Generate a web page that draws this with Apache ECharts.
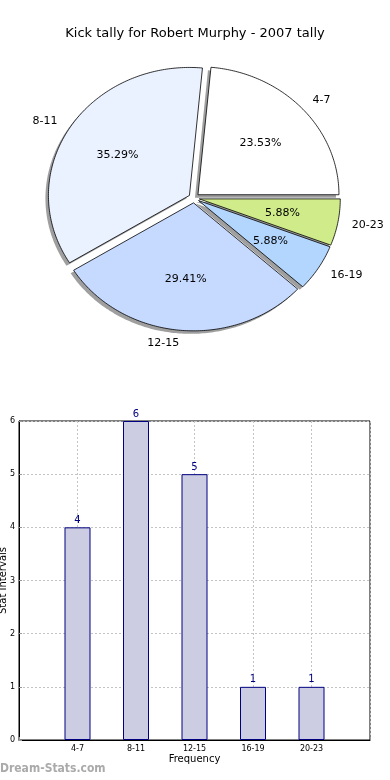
<!DOCTYPE html>
<html><head><meta charset="utf-8">
<script src="https://cdn.jsdelivr.net/npm/echarts@6/dist/echarts.min.js"></script>
<style>html,body{margin:0;padding:0;background:#fff}#c{width:390px;height:780px}</style>
</head><body><div id="c"></div>
<script>
const categories = ['4-7', '8-11', '12-15', '16-19', '20-23'];
const counts = [4, 6, 5, 1, 1];
const sliceColors = ['#ffffff', '#eaf1ff', '#c6d9ff', '#b3d6ff', '#d0ec8a'];
const yTicks = [0, 1, 2, 3, 4, 5, 6];

const total = counts.reduce((a, b) => a + b, 0);
const starts = [];
let acc = 0;
counts.forEach(v => { starts.push(acc); acc += v; });
const PIE = { cx: 194, cy: 198, rx: 141, ry: 128, explode: 0.038, sdx: -3, sdy: 3 };
const FONT = 'DejaVu Sans';

function wedge(i, val) {
  const a0 = starts[i] / total * 2 * Math.PI;
  const a1 = (starts[i] + val) / total * 2 * Math.PI;
  const mid = (a0 + a1) / 2;
  const ox = PIE.cx + PIE.explode * PIE.rx * Math.cos(mid);
  const oy = PIE.cy - PIE.explode * PIE.ry * Math.sin(mid);
  const pts = [[ox, oy]];
  const n = Math.max(6, Math.ceil((a1 - a0) / 0.015));
  for (let k = 0; k <= n; k++) {
    const a = a0 + (a1 - a0) * k / n;
    pts.push([ox + PIE.rx * Math.cos(a), oy - PIE.ry * Math.sin(a)]);
  }
  return { pts, ox, oy, mid };
}

function renderPie(params, api) {
  const i = params.dataIndex;
  const val = api.value(0);
  const w = wedge(i, val);
  const c = Math.cos(w.mid), s = Math.sin(w.mid);
  const pct = (val / total * 100).toFixed(2) + '%';
  return {
    type: 'group',
    children: [
      { type: 'polygon', z2: 0, shape: { points: w.pts.map(p => [p[0] + PIE.sdx, p[1] + PIE.sdy]) },
        style: { fill: 'rgba(80,80,80,0.55)', stroke: null } },
      { type: 'polygon', z2: 10, shape: { points: w.pts },
        style: { fill: sliceColors[i], stroke: '#000', lineWidth: 0.8 } },
      { type: 'text', z2: 20, x: w.ox + 1.1 * PIE.rx * c, y: w.oy - 1.1 * PIE.ry * s,
        style: { text: categories[i], fill: '#000', font: '11px ' + FONT,
          align: c > 0 ? 'left' : 'right', verticalAlign: 'middle' } },
      { type: 'text', z2: 20, x: w.ox + 0.6 * PIE.rx * c, y: w.oy - 0.6 * PIE.ry * s,
        style: { text: pct, fill: '#000', font: '11px ' + FONT,
          align: 'center', verticalAlign: 'middle' } }
    ]
  };
}

const chart = echarts.init(document.getElementById('c'), null, { renderer: 'canvas' });
chart.setOption({
  animation: false,
  backgroundColor: '#fff',
  textStyle: { fontFamily: FONT },
  title: {
    text: 'Kick tally for Robert Murphy - 2007 tally',
    left: 'center', top: 22,
    textStyle: { fontSize: 13, fontWeight: 'normal', color: '#000', fontFamily: FONT }
  },
  graphic: [{
    type: 'text', left: 0, top: 763,
    style: { text: 'Dream-Stats.com', fill: '#aaaaaa', font: 'bold 12px "DejaVu Sans Condensed"' }
  }],
  grid: { left: 19, right: 20, top: 421, bottom: 40, containLabel: false, outerBoundsMode: 'none',
    show: true, borderColor: '#000', borderWidth: 1 },
  xAxis: {
    type: 'value', min: 0, max: categories.length + 1, interval: 1,
    name: 'Frequency', nameLocation: 'middle', nameGap: 14, nameMoveOverlap: false,
    nameTextStyle: { fontSize: 10, color: '#000', fontFamily: FONT },
    axisLine: { show: true, lineStyle: { color: '#000' } },
    axisTick: { show: true, inside: true, length: 3, lineStyle: { color: '#999' } },
    axisLabel: { fontSize: 8, color: '#000', margin: 5, fontFamily: FONT,
      formatter: v => categories[v - 1] || '' },
    splitLine: { show: true, lineStyle: { color: '#c4c4c4', type: [2, 2], width: 1 } }
  },
  yAxis: {
    type: 'value', min: yTicks[0], max: yTicks[yTicks.length - 1], interval: 1,
    name: 'Stat Intervals', nameLocation: 'middle', nameGap: 11, nameMoveOverlap: false,
    nameTextStyle: { fontSize: 10, color: '#000', fontFamily: FONT },
    axisLine: { show: true, lineStyle: { color: '#000' } },
    axisTick: { show: true, inside: true, length: 3, lineStyle: { color: '#999' } },
    axisLabel: { fontSize: 8, color: '#000', margin: 4, fontFamily: FONT },
    splitLine: { show: true, lineStyle: { color: '#c4c4c4', type: [2, 2], width: 1 } }
  },
  series: [
    {
      type: 'custom', coordinateSystem: 'none',
      data: counts.map(v => [v]),
      renderItem: renderPie, silent: true
    },
    {
      type: 'bar',
      data: counts.map((v, i) => [i + 1, v]),
      barWidth: 26,
      itemStyle: { color: '#ccccE3', borderColor: '#000080', borderWidth: 1 },
      label: { show: true, position: 'top', distance: 2, color: '#000080', fontSize: 10, fontFamily: FONT },
      z: 3
    }
  ]
});
</script>
</body></html>
